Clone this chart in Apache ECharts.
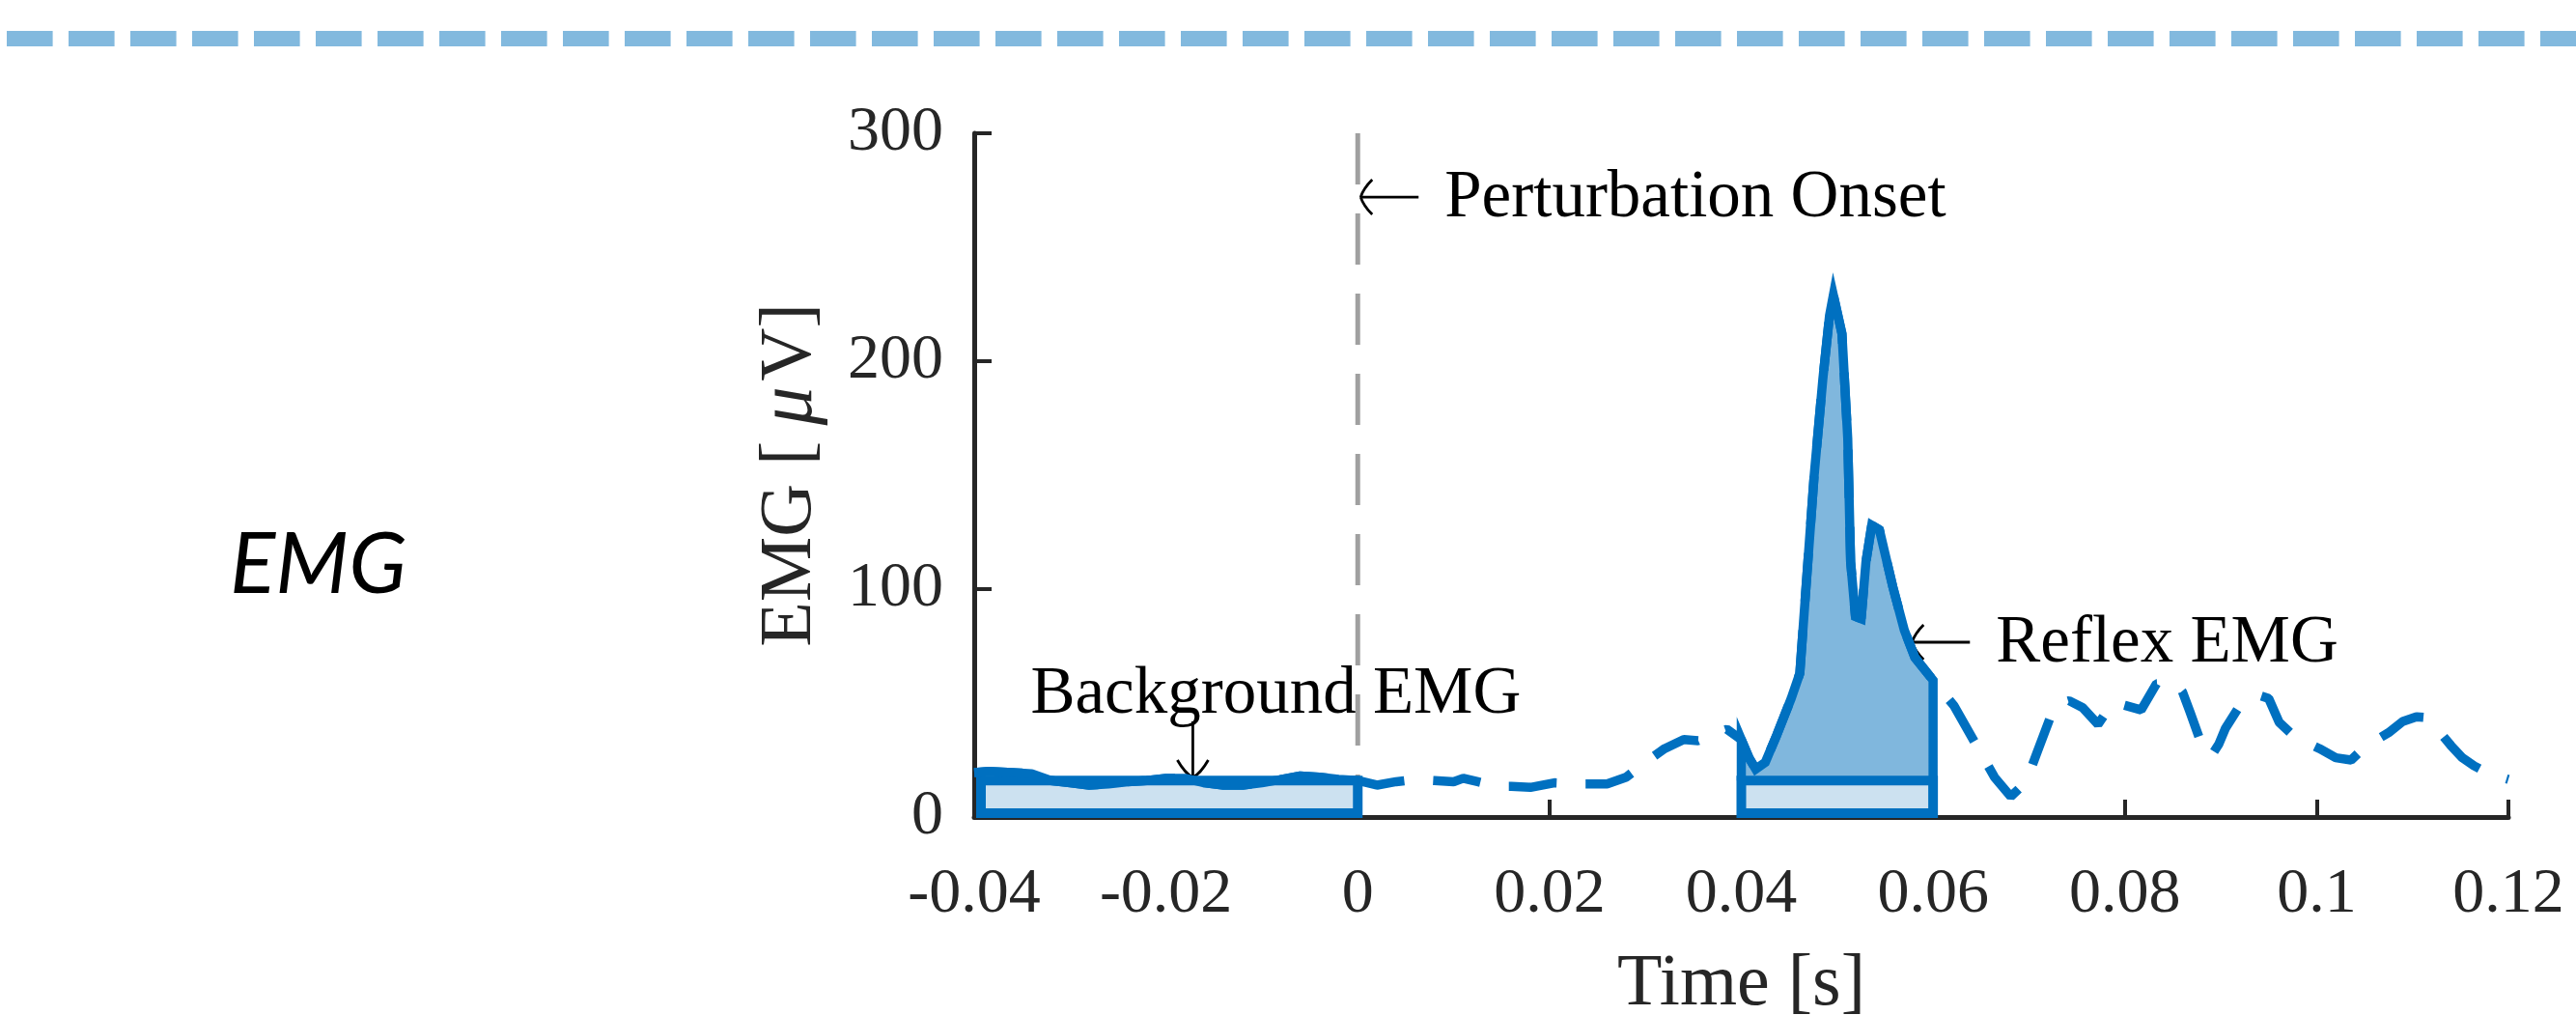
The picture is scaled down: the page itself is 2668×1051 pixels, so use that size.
<!DOCTYPE html>
<html>
<head>
<meta charset="utf-8">
<script src="https://cdn.jsdelivr.net/npm/echarts@6/dist/echarts.min.js"></script>
<style>
html, body { margin: 0; padding: 0; background: #fff; }
#chart { width: 2668px; height: 1051px; }
</style>
</head>
<body>
<div id="chart"></div>
<script>
// axis ranges
const timeRange = [-0.04, 0.12];
const timeStep = 0.02;
const emgRange = [0, 300];
const emgStep = 100;

// EMG trace [time s, uV]
const backgroundTrace = [
    [-0.04, 19.5], [-0.0385, 20], [-0.036, 19.5], [-0.034, 19], [-0.032, 16], [-0.03, 15],
    [-0.028, 14], [-0.026, 14.5], [-0.024, 15.5], [-0.022, 16], [-0.02, 17], [-0.018, 17],
    [-0.016, 15], [-0.014, 14], [-0.012, 14], [-0.01, 15], [-0.008, 16.5], [-0.006, 18],
    [-0.004, 17.5], [-0.002, 16.5], [0, 16]
];
const earlyTrace = [
    [0.002, 14], [0.004, 15.5], [0.006, 16.5], [0.008, 16], [0.01, 15.5], [0.011, 17],
    [0.0125, 15.5], [0.0145, 13.5], [0.016, 13.5], [0.018, 13], [0.0205, 15], [0.023, 14.5],
    [0.026, 14.5], [0.028, 17.5], [0.03, 24], [0.032, 30], [0.034, 34], [0.0355, 33.5],
    [0.0375, 37], [0.0385, 38.5]
];
const reflexTrace = [
    [0.04, 34], [0.0408, 26], [0.0415, 21], [0.0425, 24], [0.0437, 36], [0.0452, 52],
    [0.0461, 63], [0.0467, 98], [0.0476, 150], [0.0485, 192], [0.0492, 220], [0.0496, 229],
    [0.0505, 212], [0.0511, 166], [0.0514, 112], [0.0519, 88], [0.0525, 87], [0.053, 112],
    [0.0536, 128], [0.0544, 126], [0.0558, 101], [0.057, 82], [0.0581, 70], [0.06, 60]
];
const lateTrace = [
    [0.0622, 48.7], [0.0648, 29.4], [0.0664, 17.5], [0.0681, 9], [0.0697, 15.3], [0.0709, 29],
    [0.0727, 49], [0.0742, 51], [0.0756, 48], [0.0772, 40.7], [0.0788, 50.4], [0.08, 49],
    [0.0817, 47], [0.0833, 58.5], [0.0852, 59], [0.086, 55], [0.0868, 46], [0.088, 32],
    [0.089, 26.7], [0.0898, 32], [0.0905, 39], [0.092, 49], [0.094, 53.4], [0.095, 52],
    [0.0961, 41.5], [0.0974, 36.4], [0.0988, 33], [0.1003, 30], [0.102, 26], [0.1036, 25],
    [0.1051, 31], [0.1075, 37], [0.109, 42], [0.1104, 44], [0.1115, 43.6], [0.1127, 38],
    [0.114, 31.4], [0.1152, 26], [0.1164, 22.5], [0.118, 19], [0.12, 16.5]
];

// analysis windows [start, end, mean level]
const windows = [[-0.04, 0, 16], [0.04, 0.06, 16]];
const onsetLine = [[0, 300], [0, 0]];

// text callouts: arrow tip in data coords
const callouts = [
    { text: 'Perturbation Onset', tip: [0.0003, 272], dir: 'left' },
    { text: 'Background EMG', tip: [-0.0172, 17.4], dir: 'down' },
    { text: 'Reflex EMG', tip: [0.0578, 76.7], dir: 'left' }
];

const blue = '#0070C0';
const serif = 'Liberation Serif';
const axisColor = '#262626';

let reflexOutline = [[windows[1][0], windows[1][2]]].concat(reflexTrace, [[windows[1][1], windows[1][2]]]);
let fullTrace = backgroundTrace.concat(earlyTrace, reflexTrace, lateTrace);

let chart = echarts.init(document.getElementById('chart'), null, { renderer: 'canvas' });

let option = {
    animation: false,
    backgroundColor: '#fff',
    grid: { left: 1009, right: 70, top: 138, bottom: 205, containLabel: false, outerBoundsMode: 'none' },
    xAxis: {
        type: 'value',
        min: timeRange[0],
        max: timeRange[1],
        interval: timeStep,
        name: 'Time [s]',
        nameLocation: 'middle',
        nameGap: 136,
        nameTextStyle: { fontFamily: serif, fontSize: 76, color: axisColor },
        axisLine: { onZero: false, lineStyle: { color: axisColor, width: 5 } },
        axisTick: { inside: true, length: 18, lineStyle: { color: axisColor, width: 4 } },
        axisLabel: { fontFamily: serif, fontSize: 66, color: axisColor, margin: 48 },
        splitLine: { show: false }
    },
    yAxis: {
        type: 'value',
        min: emgRange[0],
        max: emgRange[1],
        interval: emgStep,
        name: 'EMG [{mu|μ}V]',
        nameLocation: 'middle',
        nameGap: 150,
        nameTextStyle: {
            fontFamily: serif, fontSize: 76, color: axisColor,
            rich: { mu: { fontFamily: serif, fontSize: 80, fontStyle: 'italic', color: axisColor, padding: [0, 6, 0, 16] } }
        },
        axisLine: { show: true, onZero: false, lineStyle: { color: axisColor, width: 5 } },
        axisTick: { show: true, inside: true, length: 18, lineStyle: { color: axisColor, width: 4 } },
        axisLabel: { fontFamily: serif, fontSize: 66, color: axisColor, margin: 32 },
        splitLine: { show: false }
    },
    series: [
        {
            type: 'line',
            z: 1,
            data: reflexOutline,
            symbol: 'none',
            lineStyle: { width: 0 },
            areaStyle: { color: '#80B7DD', opacity: 1 }
        },
        {
            type: 'line',
            z: 2,
            data: onsetLine,
            symbol: 'none',
            lineStyle: { color: '#A0A0A0', width: 5, type: [53, 30], cap: 'butt' }
        },
        {
            type: 'custom',
            z: 3,
            data: windows,
            encode: { x: [0, 1], y: 2 },
            renderItem: function (params, api) {
                let p0 = api.coord([api.value(0), api.value(2)]);
                let p1 = api.coord([api.value(1), 0]);
                let x0 = Math.max(p0[0], params.coordSys.x + 7);
                return {
                    type: 'rect',
                    shape: { x: x0, y: p0[1], width: p1[0] - x0, height: p1[1] - p0[1] - 4 },
                    style: { fill: '#CCE1F0', stroke: blue, lineWidth: 10 }
                };
            }
        },
        {
            type: 'line',
            z: 4,
            data: fullTrace,
            symbol: 'none',
            lineStyle: { color: blue, width: 9.5, type: [50, 30], cap: 'butt' }
        },
        {
            type: 'line',
            z: 5,
            data: backgroundTrace,
            symbol: 'none',
            lineStyle: { color: blue, width: 9.5, join: 'round' }
        },
        {
            type: 'line',
            z: 5,
            data: reflexOutline,
            symbol: 'none',
            lineStyle: { color: blue, width: 9.5, join: 'miter', miterLimit: 10 }
        }
    ]
};

chart.setOption(option);

function arrowShapes(tip, dir) {
    let x = tip[0];
    let y = tip[1];
    let st = { stroke: '#000', lineWidth: 2.8, fill: null };
    if (dir === 'left') {
        return [
            { type: 'line', shape: { x1: x, y1: y, x2: x + 60, y2: y }, style: st },
            { type: 'bezierCurve', shape: { x1: x + 12, y1: y - 18, x2: x, y2: y, cpx1: x + 3, cpy1: y - 9 }, style: st },
            { type: 'bezierCurve', shape: { x1: x + 12, y1: y + 18, x2: x, y2: y, cpx1: x + 3, cpy1: y + 9 }, style: st }
        ];
    }
    return [
        { type: 'line', shape: { x1: x, y1: y - 58, x2: x, y2: y }, style: st },
        { type: 'bezierCurve', shape: { x1: x - 16, y1: y - 18, x2: x, y2: y, cpx1: x - 8, cpy1: y - 4 }, style: st },
        { type: 'bezierCurve', shape: { x1: x + 16, y1: y - 18, x2: x, y2: y, cpx1: x + 8, cpy1: y - 4 }, style: st }
    ];
}

let graphics = [
    {
        type: 'line',
        shape: { x1: 7, y1: 40, x2: 2668, y2: 40 },
        style: { stroke: '#82B9DE', lineWidth: 16, lineDash: [47.6, 16.4] }
    },
    {
        type: 'text',
        x: 238,
        y: 586,
        style: { text: 'EMG', font: 'italic 88px Lato', fill: '#000', verticalAlign: 'middle' }
    }
];

for (let i = 0; i < callouts.length; i++) {
    let c = callouts[i];
    let tip = chart.convertToPixel({ gridIndex: 0 }, c.tip);
    graphics = graphics.concat(arrowShapes(tip, c.dir));
    let tx, ty;
    if (c.dir === 'left') {
        tx = tip[0] + 87;
        ty = tip[1] + 2;
    } else {
        tx = tip[0] - 168;
        ty = tip[1] - 85;
    }
    graphics.push({
        type: 'text',
        x: tx,
        y: ty,
        style: { text: c.text, font: '69px "Liberation Serif"', fill: '#000', verticalAlign: 'middle' }
    });
}

chart.setOption({ graphic: graphics });
window.addEventListener('resize', chart.resize);
</script>
</body>
</html>
